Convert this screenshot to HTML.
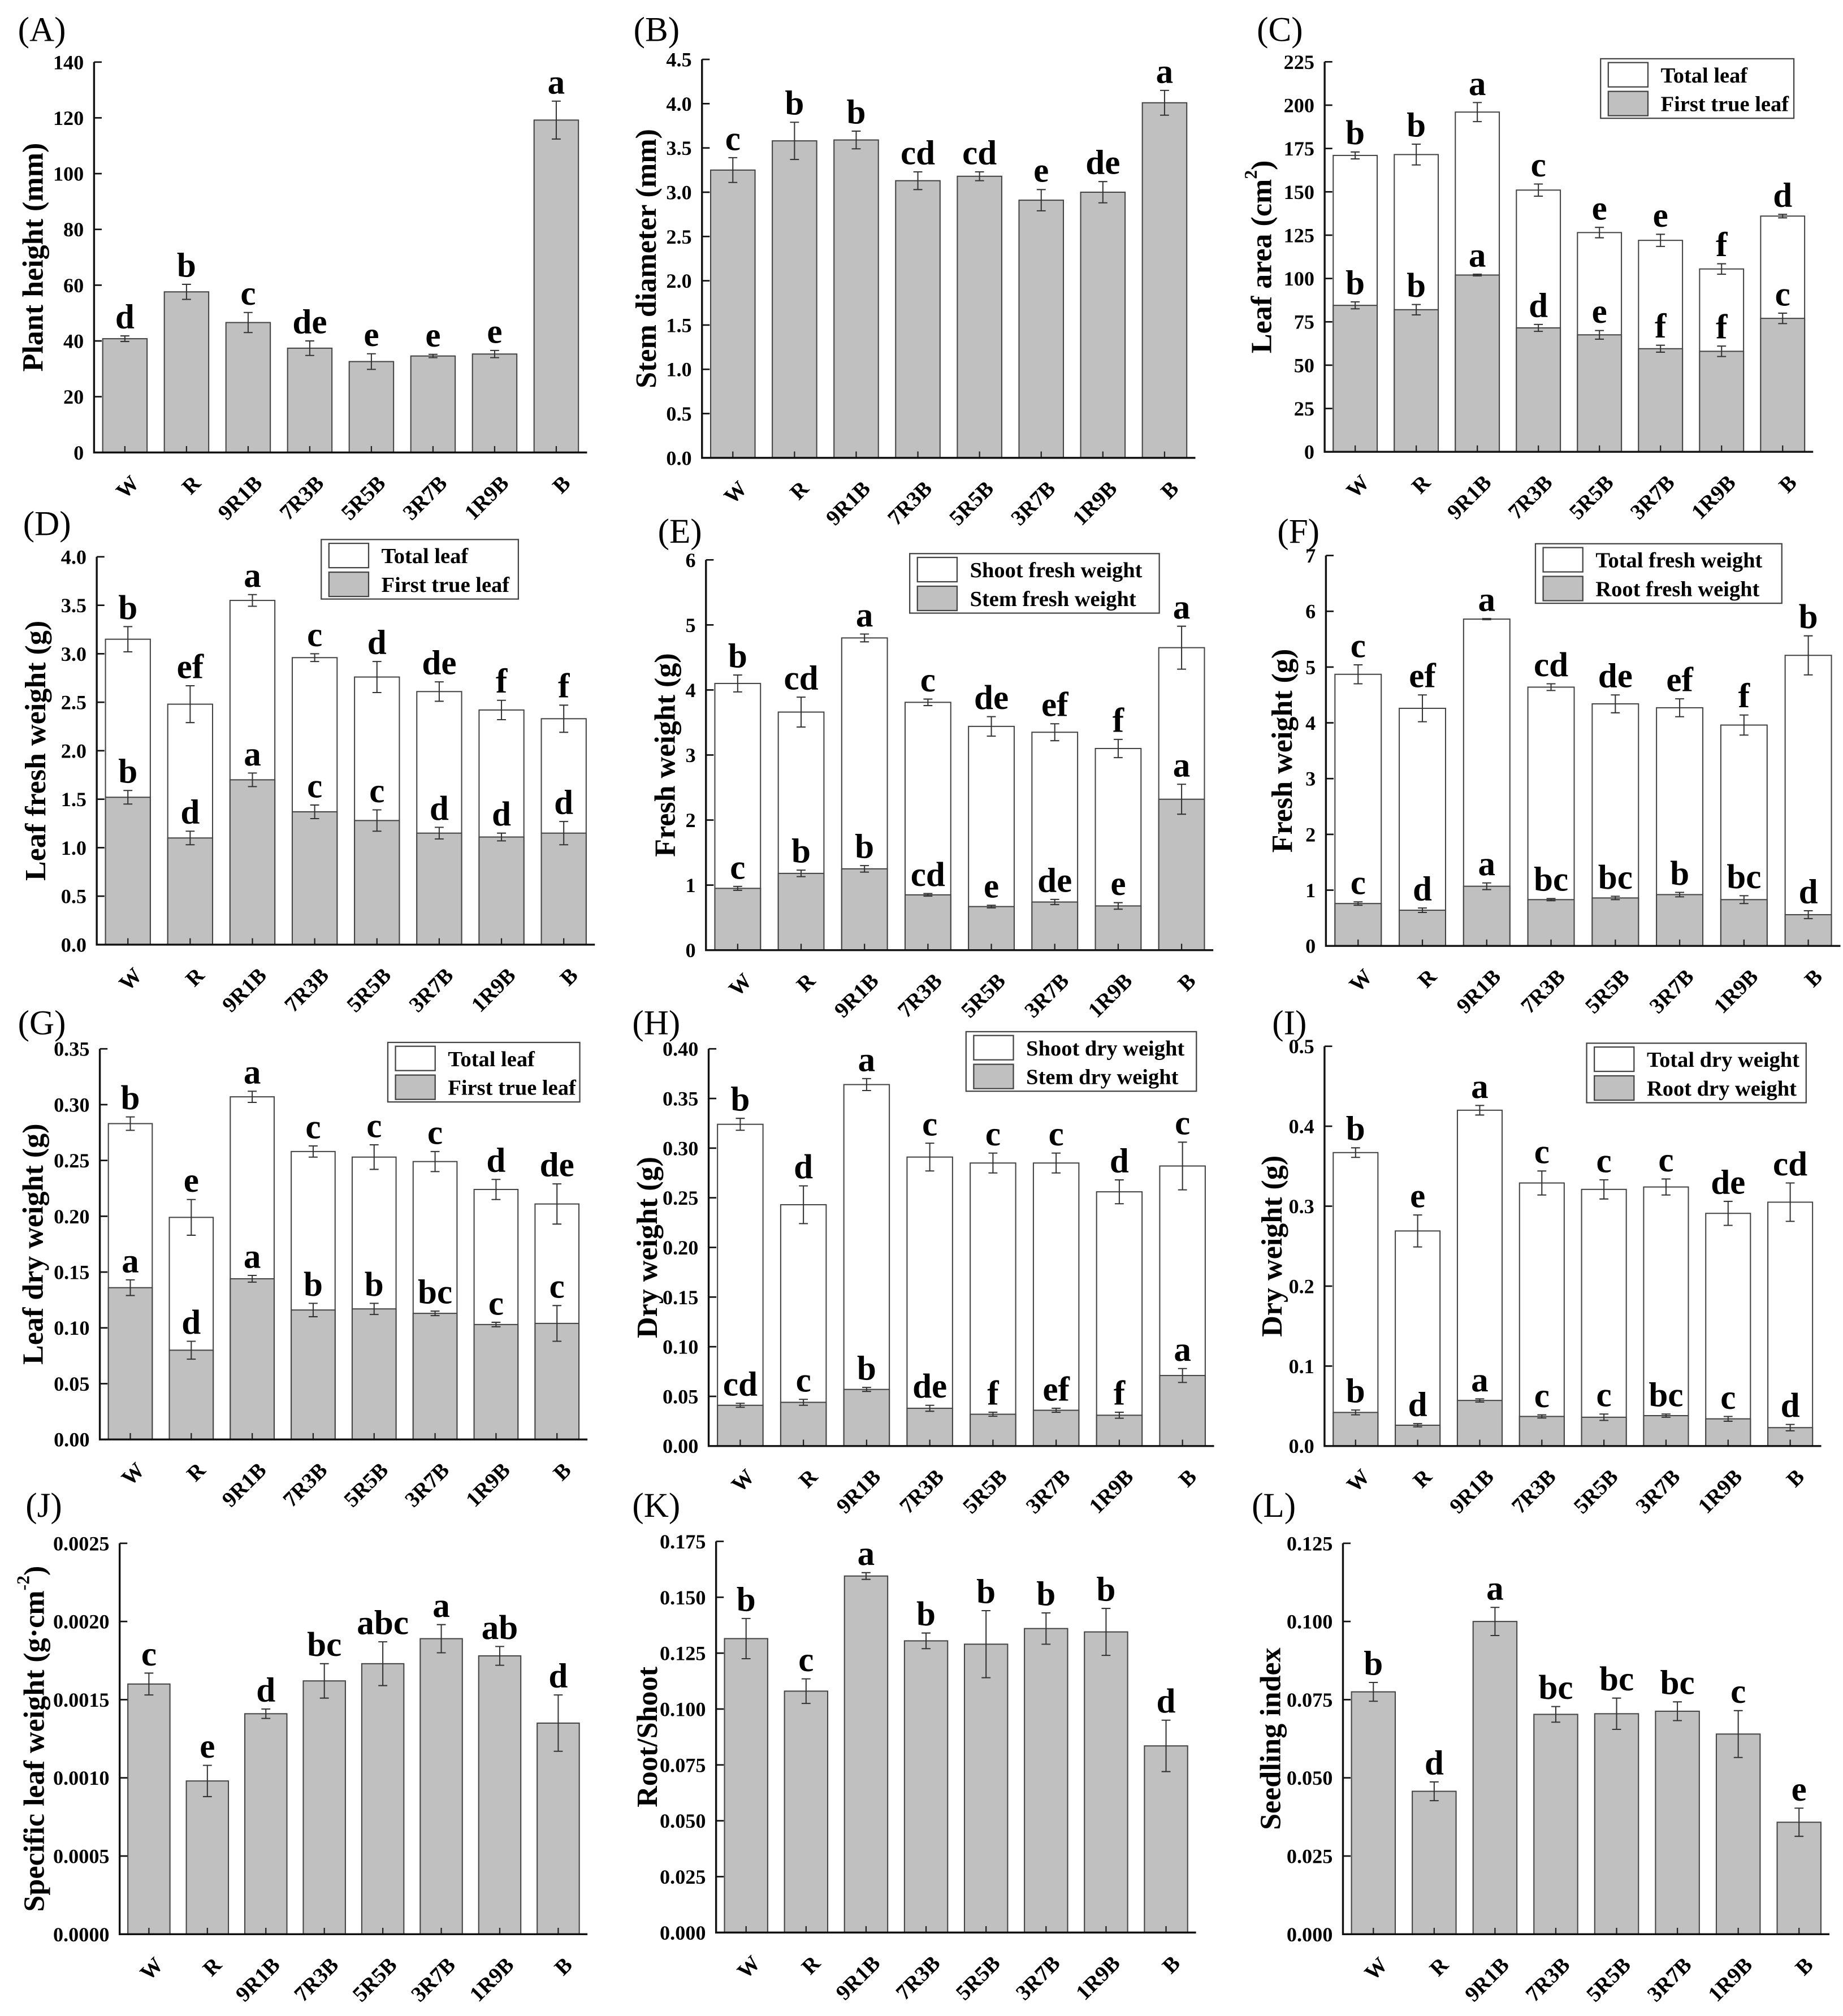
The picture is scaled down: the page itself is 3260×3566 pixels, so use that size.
<!DOCTYPE html>
<html><head><meta charset="utf-8"><style>
html,body{margin:0;padding:0;background:#fff}
svg{display:block}
text{font-family:"Liberation Serif",serif}
</style></head><body>
<svg id="fig" width="3260" height="3566" viewBox="0 0 1440 1575" preserveAspectRatio="none" xmlns="http://www.w3.org/2000/svg">
<rect width="1440" height="1575" fill="#fff"/>
</svg>
<script>
const categories = ["W","R","9R1B","7R3B","5R5B","3R7B","1R9B","B"];
// A
const aVals = [40.8,57.6,46.6,37.4,32.6,34.6,35.3,119.2];
const aErr = [1,2.7,3.6,2.6,2.8,0.6,1.3,6.8];
const aLet = ["d","b","c","de","e","e","e","a"];
// B
const bVals = [3.25,3.58,3.59,3.13,3.18,2.91,3.00,4.01];
const bErr = [0.14,0.21,0.1,0.1,0.05,0.12,0.12,0.14];
const bLet = ["c","b","b","cd","cd","e","de","a"];
// C
const cTotal = [171,171.5,196,151,126.5,122,105.5,136];
const cTotalErr = [2,6,5.5,3.5,3,3.5,3,1];
const cTotalLet = ["b","b","a","c","e","e","f","d"];
const cFirst = [84.5,82,102,71.5,67.5,59.5,58,77];
const cFirstErr = [2,3,0.5,2,2.5,2,3,3];
const cFirstLet = ["b","b","a","d","e","f","f","c"];
// D
const dTotal = [3.15,2.48,3.55,2.96,2.76,2.61,2.42,2.33];
const dTotalErr = [0.13,0.19,0.06,0.04,0.16,0.1,0.1,0.14];
const dTotalLet = ["b","ef","a","c","d","de","f","f"];
const dFirst = [1.52,1.10,1.70,1.37,1.28,1.15,1.11,1.15];
const dFirstErr = [0.07,0.07,0.07,0.07,0.11,0.06,0.04,0.12];
const dFirstLet = ["b","d","a","c","c","d","d","d"];
// E
const eShoot = [4.1,3.66,4.8,3.81,3.44,3.35,3.10,4.65];
const eShootErr = [0.13,0.23,0.06,0.05,0.15,0.13,0.14,0.33];
const eShootLet = ["b","cd","a","c","de","ef","f","a"];
const eStem = [0.95,1.18,1.25,0.85,0.67,0.74,0.68,2.32];
const eStemErr = [0.03,0.05,0.05,0.02,0.02,0.04,0.05,0.23];
const eStemLet = ["c","b","b","cd","e","de","e","a"];
// F
const fTotal = [4.87,4.26,5.86,4.64,4.34,4.27,3.96,5.21];
const fTotalErr = [0.17,0.24,0.01,0.06,0.16,0.16,0.18,0.35];
const fTotalLet = ["c","ef","a","cd","de","ef","f","b"];
const fRoot = [0.76,0.64,1.07,0.83,0.86,0.92,0.83,0.56];
const fRootErr = [0.03,0.04,0.06,0.02,0.03,0.04,0.07,0.07];
const fRootLet = ["c","d","a","bc","bc","b","bc","d"];
// G
const gTotal = [0.283,0.199,0.307,0.258,0.253,0.249,0.224,0.211];
const gTotalErr = [0.006,0.016,0.005,0.005,0.011,0.009,0.009,0.018];
const gTotalLet = ["b","e","a","c","c","c","d","de"];
const gFirst = [0.136,0.080,0.144,0.116,0.117,0.113,0.103,0.104];
const gFirstErr = [0.007,0.008,0.003,0.006,0.005,0.002,0.002,0.016];
const gFirstLet = ["a","d","a","b","b","bc","c","c"];
// H
const hShoot = [0.324,0.243,0.364,0.291,0.285,0.285,0.256,0.282];
const hShootErr = [0.006,0.019,0.006,0.014,0.01,0.01,0.012,0.024];
const hShootLet = ["b","d","a","c","c","c","d","c"];
const hStem = [0.041,0.044,0.057,0.038,0.032,0.036,0.031,0.071];
const hStemErr = [0.002,0.003,0.002,0.003,0.002,0.002,0.003,0.007];
const hStemLet = ["cd","c","b","de","f","ef","f","a"];
// I
const iTotal = [0.367,0.269,0.420,0.329,0.321,0.324,0.291,0.305];
const iTotalErr = [0.006,0.02,0.006,0.015,0.012,0.01,0.015,0.024];
const iTotalLet = ["b","e","a","c","c","c","de","cd"];
const iRoot = [0.042,0.026,0.057,0.037,0.036,0.038,0.034,0.023];
const iRootErr = [0.003,0.002,0.002,0.002,0.004,0.002,0.003,0.004];
const iRootLet = ["b","d","a","c","c","bc","c","d"];
// J
const jVals = [0.0016,0.00098,0.00141,0.00162,0.00173,0.00189,0.00178,0.00135];
const jErr = [0.00007,0.0001,0.00003,0.00011,0.00014,0.00009,0.00006,0.00018];
const jLet = ["c","e","d","bc","abc","a","ab","d"];
// K
const kVals = [0.1315,0.108,0.1595,0.1305,0.129,0.136,0.1345,0.0835];
const kErr = [0.009,0.0055,0.0015,0.0035,0.015,0.007,0.0105,0.0115];
const kLet = ["b","c","a","b","b","b","b","d"];
// L
const lVals = [0.0775,0.0457,0.1000,0.0703,0.0705,0.0713,0.064,0.0358];
const lErr = [0.003,0.003,0.0045,0.0025,0.005,0.003,0.0075,0.0045];
const lLet = ["b","d","a","bc","bc","bc","c","e"];

const NS = "http://www.w3.org/2000/svg";
const svg = document.getElementById('fig');
function mk(tag, attrs, parent){
  const e = document.createElementNS(NS, tag);
  for (const k in attrs) e.setAttribute(k, attrs[k]);
  (parent||svg).appendChild(e);
  return e;
}

function panel(cfg){
  const g = mk('g', {});
  
  
  const {x0,x1,yT,yB,max,step,dec} = cfg;
  const yScale = v => yB - (v/max)*(yB-yT);
  const slot = (x1-x0)/categories.length;
  const xC = i => x0 + slot*(i+0.5);
  const bw = slot*0.72;

  const pl = mk('text', {x: cfg.lx, y: cfg.ly, 'font-size': 27}, g);
  pl.textContent = '(' + cfg.id + ')';
  
  

  cfg.series.forEach((s, si) => {
    s.vals.forEach((v, i) => {
      const y = yScale(v);
      const r = mk('rect', {x: xC(i)-bw/2, y: y, width: bw, height: yB-y, fill: s.fill, stroke: '#444', 'stroke-width': 0.9}, g);
      
      
    });
  });
  categories.forEach((c, i) => {
    mk('line', {x1: xC(i), x2: xC(i), y1: yB, y2: yB-5, stroke: '#222', 'stroke-width': 1}, g);
  });
  cfg.series.forEach(s => {
    s.vals.forEach((v, i) => {
      const cx = xC(i);
      const yt = yScale(v + s.err[i]), yb = yScale(v - s.err[i]);
      const eb = mk('path', {d: `M${cx},${yt}V${yb}M${cx-3.5},${yt}H${cx+3.5}M${cx-3.5},${yb}H${cx+3.5}`, stroke: '#333', 'stroke-width': 0.9, fill: 'none'}, g);
      
      
      const t = mk('text', {x: cx, y: yt - 6, 'font-size': 27, 'font-weight': 'bold', 'text-anchor': 'middle'}, g);
      t.textContent = s.lets[i];
      
      
    });
  });
  const ax = mk('path', {d: `M${x0},${yT}V${yB}H${x1}`, stroke: '#111', 'stroke-width': 1.5, fill: 'none'}, g);
  
  
  const n = Math.round(max/step);
  for (let k = 0; k <= n; k++){
    const v = k*step, y = yScale(v);
    mk('line', {x1: x0, x2: x0+6, y1: y, y2: y, stroke: '#111', 'stroke-width': 1.2}, g);
    const t = mk('text', {x: x0-8, y: y+5.5, 'font-size': 16, 'font-weight': 'bold', 'text-anchor': 'end'}, g);
    t.textContent = v.toFixed(dec);
    
    
  }
  categories.forEach((c, i) => {
    const bx = xC(i)+12, by = yB+25;
    const t = mk('text', {x: bx, y: by, 'font-size': 17, 'font-weight': 'bold', 'text-anchor': 'end', transform: `rotate(-45 ${bx} ${by})`}, g);
    t.textContent = c;
    
    
  });
  const tx = cfg.tx, ty = (yT+yB)/2;
  const tt = mk('text', {x: tx, y: ty, 'font-size': 23, 'font-weight': 'bold', 'text-anchor': 'middle', 'dominant-baseline': 'central', transform: `rotate(-90 ${tx} ${ty})`}, g);
  tt.innerHTML = cfg.title;
  
  
  if (cfg.legend){
    const L = cfg.legend;
    const lg = mk('g', {}, g);
    
    
    mk('rect', {x: L.x, y: L.y, width: L.w, height: 46.5, fill: '#fff', stroke: '#444', 'stroke-width': 1}, lg);
    cfg.series.forEach((s, si) => {
      const ry = L.y + 3 + si*22.5;
      mk('rect', {x: L.x+6, y: ry, width: 31, height: 19, fill: s.fill, stroke: '#444', 'stroke-width': 1}, lg);
      const t = mk('text', {x: L.x+47, y: ry+15.5, 'font-size': 17, 'font-weight': 'bold'}, lg);
      t.textContent = L.labels[si];
      
      
    });
  }
}
const W = '#fff', G = '#c0c0c0';
panel({id:'A', x0:73.5, x1:458.7, yT:48.5, yB:353.5, max:140, step:20, dec:0, lx:14, ly:32, tx:26, title:'Plant height (mm)',
  series:[{key:'plant-height', vals:aVals, err:aErr, lets:aLet, fill:G}]});
panel({id:'B', x0:548.5, x1:934, yT:46.4, yB:357.7, max:4.5, step:0.5, dec:1, lx:495, ly:32, tx:505, title:'Stem diameter (mm)',
  series:[{key:'stem-diameter', vals:bVals, err:bErr, lets:bLet, fill:G}]});
panel({id:'C', x0:1035, x1:1416.7, yT:48.3, yB:353, max:225, step:25, dec:0, lx:982, ly:32, tx:986, title:'Leaf area (cm<tspan font-size="14" dy="-9">2</tspan><tspan dy="9">)</tspan>',
  legend:{x:1250.6, y:45.9, w:151, labels:['Total leaf','First true leaf']},
  series:[{key:'total-leaf', vals:cTotal, err:cTotalErr, lets:cTotalLet, fill:W},{key:'first-true-leaf', vals:cFirst, err:cFirstErr, lets:cFirstLet, fill:G}]});
panel({id:'D', x0:75.6, x1:464.8, yT:435, yB:738, max:4, step:0.5, dec:1, lx:18, ly:418, tx:28, title:'Leaf fresh weight (g)',
  legend:{x:251, y:421.5, w:154, labels:['Total leaf','First true leaf']},
  series:[{key:'total-leaf', vals:dTotal, err:dTotalErr, lets:dTotalLet, fill:W},{key:'first-true-leaf', vals:dFirst, err:dFirstErr, lets:dFirstLet, fill:G}]});
panel({id:'E', x0:551.6, x1:948, yT:437.4, yB:742.3, max:6, step:1, dec:0, lx:514, ly:424, tx:520, title:'Fresh weight (g)',
  legend:{x:710.8, y:432.5, w:195, labels:['Shoot fresh weight','Stem fresh weight']},
  series:[{key:'shoot-fresh', vals:eShoot, err:eShootErr, lets:eShootLet, fill:W},{key:'stem-fresh', vals:eStem, err:eStemErr, lets:eStemLet, fill:G}]});
panel({id:'F', x0:1036, x1:1438, yT:434, yB:739, max:7, step:1, dec:0, lx:998, ly:424, tx:1002, title:'Fresh weight (g)',
  legend:{x:1199.7, y:424.8, w:192.5, labels:['Total fresh weight','Root fresh weight']},
  series:[{key:'total-fresh', vals:fTotal, err:fTotalErr, lets:fTotalLet, fill:W},{key:'root-fresh', vals:fRoot, err:fRootErr, lets:fRootLet, fill:G}]});
panel({id:'G', x0:78, x1:459, yT:819.4, yB:1124.6, max:0.35, step:0.05, dec:2, lx:14, ly:808, tx:26, title:'Leaf dry weight (g)',
  legend:{x:303, y:814.4, w:150, labels:['Total leaf','First true leaf']},
  series:[{key:'total-leaf', vals:gTotal, err:gTotalErr, lets:gTotalLet, fill:W},{key:'first-true-leaf', vals:gFirst, err:gFirstErr, lets:gFirstLet, fill:G}]});
panel({id:'H', x0:553.7, x1:948.6, yT:819.4, yB:1129.7, max:0.4, step:0.05, dec:2, lx:494, ly:808, tx:506, title:'Dry weight (g)',
  legend:{x:754.8, y:806, w:180, labels:['Shoot dry weight','Stem dry weight']},
  series:[{key:'shoot-dry', vals:hShoot, err:hShootErr, lets:hShootLet, fill:W},{key:'stem-dry', vals:hStem, err:hStemErr, lets:hStemLet, fill:G}]});
panel({id:'I', x0:1034.9, x1:1423, yT:817.4, yB:1129.7, max:0.5, step:0.1, dec:1, lx:994, ly:808, tx:994, title:'Dry weight (g)',
  legend:{x:1239.7, y:815, w:171.5, labels:['Total dry weight','Root dry weight']},
  series:[{key:'total-dry', vals:iTotal, err:iTotalErr, lets:iTotalLet, fill:W},{key:'root-dry', vals:iRoot, err:iRootErr, lets:iRootLet, fill:G}]});
panel({id:'J', x0:93.5, x1:459, yT:1205.7, yB:1511.1, max:0.0025, step:0.0005, dec:4, lx:20, ly:1185, tx:27, title:'Specific leaf weight (g·cm<tspan font-size="14" dy="-9">-2</tspan><tspan dy="9">)</tspan>',
  series:[{key:'specific-leaf-weight', vals:jVals, err:jErr, lets:jLet, fill:G}]});
panel({id:'K', x0:559.5, x1:934.5, yT:1204.2, yB:1509.8, max:0.175, step:0.025, dec:3, lx:494, ly:1185, tx:506, title:'Root/Shoot',
  series:[{key:'root-shoot', vals:kVals, err:kErr, lets:kLet, fill:G}]});
panel({id:'L', x0:1049.3, x1:1429.4, yT:1205.7, yB:1511.1, max:0.125, step:0.025, dec:3, lx:978, ly:1185, tx:993, title:'Seedling index',
  series:[{key:'seedling-index', vals:lVals, err:lErr, lets:lLet, fill:G}]});
</script>
</body></html>
